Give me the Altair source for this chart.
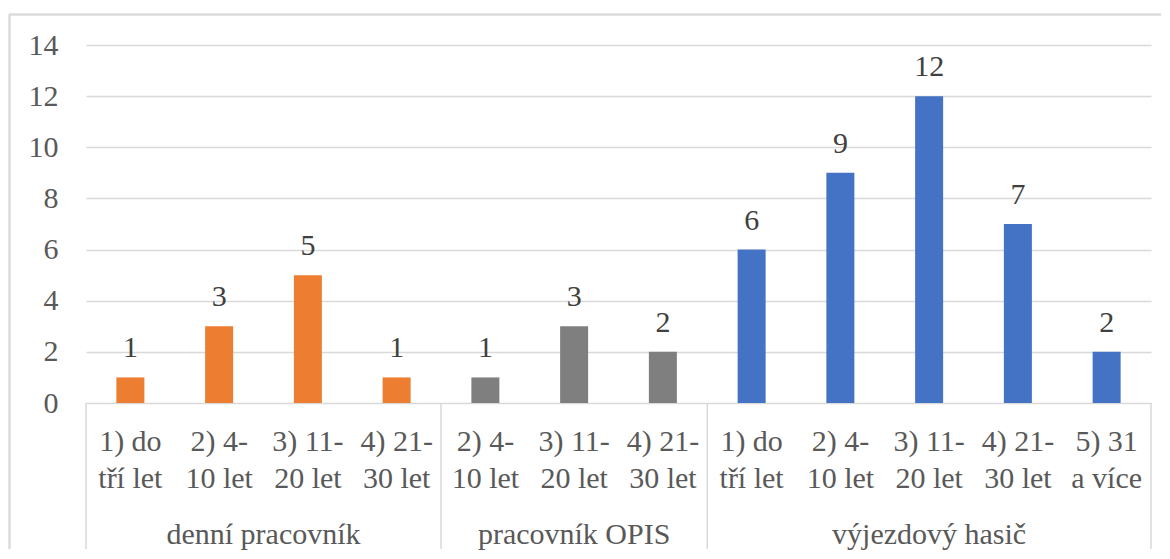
import altair as alt
import pandas as pd

groups = ["denní pracovník", "pracovník OPIS", "výjezdový hasič"]
group_sizes = [4, 3, 5]
group_colors = ["#ED7D31", "#7F7F7F", "#4472C4"]
categories = [
    "1) do\ntří let", "2) 4-\n10 let", "3) 11-\n20 let", "4) 21-\n30 let",
    "2) 4-\n10 let", "3) 11-\n20 let", "4) 21-\n30 let",
    "1) do\ntří let", "2) 4-\n10 let", "3) 11-\n20 let", "4) 21-\n30 let", "5) 31\na více",
]
values = [1, 3, 5, 1, 1, 3, 2, 6, 9, 12, 7, 2]
y_ticks = [0, 2, 4, 6, 8, 10, 12, 14]

rows = []
i = 0
for g, n in zip(groups, group_sizes):
    for _ in range(n):
        rows.append({"pos": i + 0.5, "cat": categories[i], "val": values[i], "grp": g})
        i += 1
df = pd.DataFrame(rows)

bounds = [0]
centers = []
for n in group_sizes:
    centers.append(bounds[-1] + n / 2)
    bounds.append(bounds[-1] + n)
gdf = pd.DataFrame({"pos": centers, "grp": groups})
sdf = pd.DataFrame({"pos": bounds})

FONT = "Liberation Serif"
H = 358
xs = alt.Scale(domain=[0, len(values)], nice=False, zero=False, padding=0)

base = alt.Chart(df)
bars = base.mark_bar(size=28).encode(
    x=alt.X("pos:Q", scale=xs, axis=None),
    y=alt.Y("val:Q", scale=alt.Scale(domain=[0, 14], nice=False),
            axis=alt.Axis(values=y_ticks, title=None, grid=True, gridColor="#D9D9D9",
                          gridWidth=1.5, domain=False, ticks=False, labelFont=FONT,
                          labelFontSize=30, labelColor="#595959", labelPadding=28)),
    color=alt.Color("grp:N", scale=alt.Scale(domain=groups, range=group_colors), legend=None),
)
labels = base.mark_text(font=FONT, fontSize=30, color="#404040", dy=-20,
                        baseline="alphabetic").encode(
    x=alt.X("pos:Q", scale=xs), y=alt.Y("val:Q"), text="val:Q")
catlabels = base.mark_text(font=FONT, fontSize=30, color="#595959", baseline="alphabetic",
                           lineBreak="\n", lineHeight=37).encode(
    x=alt.X("pos:Q", scale=xs), y=alt.value(H + 48), text="cat:N")
grplabels = alt.Chart(gdf).mark_text(font=FONT, fontSize=30, color="#595959",
                                     baseline="alphabetic").encode(
    x=alt.X("pos:Q", scale=xs), y=alt.value(H + 141), text="grp:N")
seps = alt.Chart(sdf).mark_rule(color="#D9D9D9", strokeWidth=1.5).encode(
    x=alt.X("pos:Q", scale=xs), y=alt.value(H), y2=alt.value(H + 146))
border_top = alt.Chart(sdf).mark_rule(color="#D9D9D9", strokeWidth=1.5).encode(
    x=alt.value(-76.5), x2=alt.value(1075), y=alt.value(-30.5))
border_left = alt.Chart(sdf).mark_rule(color="#D9D9D9", strokeWidth=1.5).encode(
    x=alt.value(-76.5), y=alt.value(-30.5), y2=alt.value(H + 146))

chart = alt.layer(bars, labels, catlabels, grplabels, seps, border_top, border_left).properties(
    width=1065, height=H,
    padding={"left": 0, "top": 5, "right": 0, "bottom": 0},
).configure_view(strokeWidth=0)

chart.save("out.html", embed_options={"renderer": "svg", "actions": False})
